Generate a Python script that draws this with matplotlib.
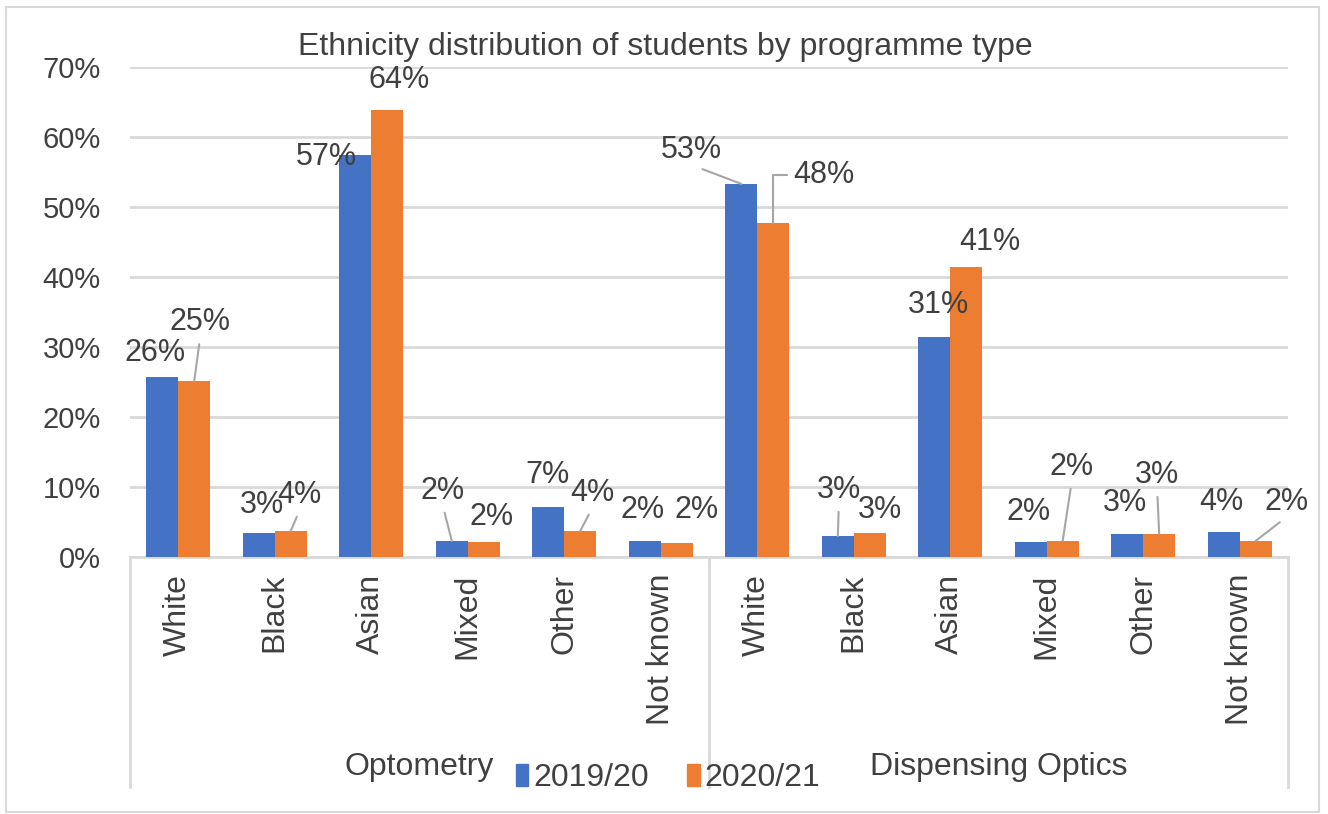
import matplotlib

matplotlib.use("Agg")
import matplotlib.pyplot as plt
from matplotlib.patches import Patch, Rectangle
from matplotlib.transforms import blended_transform_factory
import numpy as np

plt.rcParams["font.family"] = ["Liberation Sans", "DejaVu Sans"]

TITLE = "Ethnicity distribution of students by programme type"
ethnicities = ["White", "Black", "Asian", "Mixed", "Other", "Not known"]
programmes = ["Optometry", "Dispensing Optics"]
years = ["2019/20", "2020/21"]
# percentages (6 Optometry then 6 Dispensing Optics)
pct_1920 = [25.7, 3.4, 57.4, 2.3, 7.1, 2.3, 53.3, 3.0, 31.4, 2.1, 3.3, 3.6]
pct_2021 = [25.1, 3.7, 63.8, 2.1, 3.7, 2.0, 47.7, 3.4, 41.4, 2.3, 3.3, 2.3]

# label placement (pixel offsets from bar top) and leader line style per label
# (dx, dy, leader) ; leader: None, "line" or "elbow"
lab_1920 = [(-7, 24, None), (3, 28, None), (-29, -2, None), (-9, 50, "line"),
            (-1, 32, None), (-2, 31, None), (-50, 34, "line"), (1, 46, "line"),
            (4, 32, None), (-2, 30, None), (-2, 31, None), (-2, 30, None)]
lab_2021 = [(6, 59, "line"), (9, 36, "line"), (12, 30, None), (8, 25, None),
            (12, 38, "line"), (20, 33, None), (51, 48, "elbow"), (10, 23, None),
            (24, 25, None), (9, 74, "line"), (-2, 59, "line"), (31, 39, "line")]

BLUE = "#4472C4"
ORANGE = "#ED7D31"
TEXT = "#404040"
GRID = "#D9D9D9"
LEADER = "#A6A6A6"
FS = 21      # y ticks
FS_LAB = 22  # data labels
FS_BIG = 23  # categories, groups, legend, title

W, H = 1328, 814
fig = plt.figure(figsize=(W / 100, H / 100), dpi=100)
ax = fig.add_axes([130 / W, 1 - 557 / H, (1288 - 130) / W, (557 - 67) / H])

cats = ethnicities * len(programmes)
x = np.arange(len(cats))
bw = 0.33
ax.bar(x - bw / 2, pct_1920, bw, color=BLUE, zorder=3)
ax.bar(x + bw / 2, pct_2021, bw, color=ORANGE, zorder=3)

ax.set_xlim(-0.5, len(cats) - 0.5)
ax.set_ylim(0, 70)
ax.set_yticks(range(0, 71, 10))
ax.set_yticklabels([f"{v}%" for v in range(0, 71, 10)])
ax.yaxis.grid(True, color=GRID, lw=2)
ax.set_axisbelow(True)
ax.set_xticks(x)
ax.set_xticklabels(cats, rotation=90, va="top")
ax.tick_params(axis="both", length=0, labelcolor=TEXT)
ax.tick_params(axis="y", pad=21, labelsize=FS)
ax.tick_params(axis="x", pad=12, labelsize=FS_BIG)
for s in ["top", "right", "left"]:
    ax.spines[s].set_visible(False)
ax.spines["bottom"].set_color(GRID)
ax.spines["bottom"].set_linewidth(2)


def add_labels(vals, specs, shift):
    for i, (v, (dx, dy, leader)) in enumerate(zip(vals, specs)):
        kw = {}
        if leader == "line":
            kw["arrowprops"] = dict(arrowstyle="-", color=LEADER, lw=1.5,
                                    shrinkA=3, shrinkB=0, relpos=(0.5, 0))
        elif leader == "elbow":
            kw["arrowprops"] = dict(arrowstyle="-", color=LEADER, lw=1.5,
                                    shrinkA=3, shrinkB=0, relpos=(0, 0.5),
                                    connectionstyle="angle,angleA=0,angleB=90,rad=0")
        ax.annotate(f"{v:.0f}%", xy=(i + shift, v), xytext=(dx, dy),
                    textcoords="offset pixels", ha="center", va="center",
                    fontsize=FS_LAB, color=TEXT, zorder=5, **kw)


add_labels(pct_1920, lab_1920, -bw / 2)
add_labels(pct_2021, lab_2021, bw / 2)

# multi-level category axis: separators and group names
tr = blended_transform_factory(ax.transData, ax.transAxes)
drop = -(787 - 557) / (557 - 67)
for xs in [-0.5, 5.5, 11.5]:
    ax.plot([xs, xs], [0, drop], color=GRID, lw=2, transform=tr, clip_on=False)
n = len(ethnicities)
for k, name in enumerate(programmes):
    ax.text(k * n + (n - 1) / 2, -(767 - 557) / (557 - 67), name, transform=tr,
            ha="center", va="center", fontsize=FS_BIG, color=TEXT)

fig.text(665 / W, 1 - 47 / H, TITLE, ha="center", va="center",
         fontsize=FS_BIG, color=TEXT)

handles = [Patch(color=BLUE), Patch(color=ORANGE)]
fig.legend(handles, years, loc="center", bbox_to_anchor=(668 / W, 1 - 778 / H),
           ncol=2, frameon=False, fontsize=FS_BIG, labelcolor=TEXT,
           handlelength=0.4, handleheight=0.7, handletextpad=0.15,
           columnspacing=1.2)

fig.patches.append(Rectangle((6 / W, 2 / H), (1319 - 6) / W, (807 - 2) / H,
                             transform=fig.transFigure, fill=False,
                             edgecolor=GRID, lw=1.5))

fig.savefig("out.png", dpi=100)
